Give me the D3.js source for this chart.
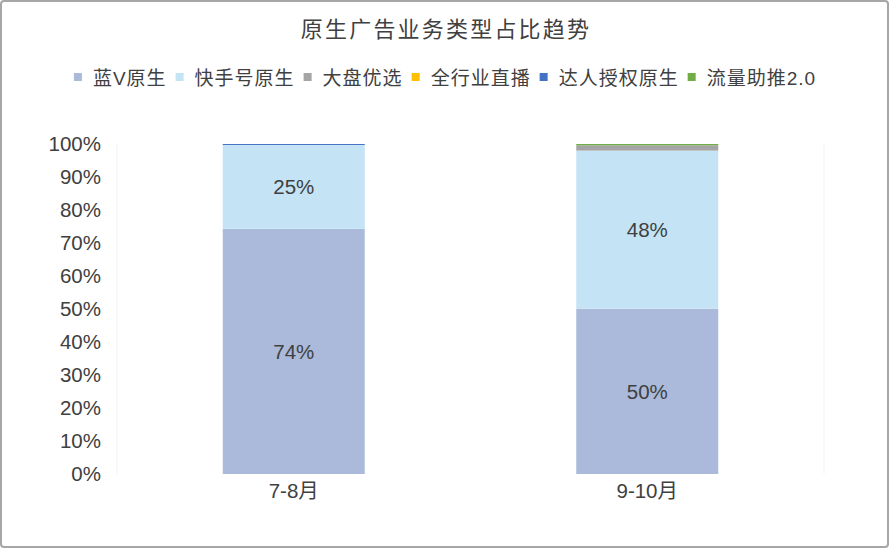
<!DOCTYPE html>
<html>
<head>
<meta charset="utf-8">
<script src="https://cdn.jsdelivr.net/npm/d3@7"></script>
<style>
  body { margin: 0; background: #fff; }
  text { font-family: "Liberation Sans", "Noto Sans CJK SC", sans-serif; fill: #404040; }
</style>
</head>
<body>
<svg></svg>
<script>
const width = 890;
const height = 560;

const categories = ["7-8月", "9-10月"];
const seriesNames = ["蓝V原生", "快手号原生", "大盘优选", "全行业直播", "达人授权原生", "流量助推2.0"];
const seriesColors = ["#abbadb", "#c4e4f5", "#a5a5a5", "#ffc000", "#4472c4", "#70ad47"];
// share per category, in series order
const lanV = [0.743, 0.501];
const kuaishouhao = [0.254, 0.479];
const dapan = [0, 0.016];
const quanhangye = [0, 0];
const daren = [0.003, 0];
const liuliang = [0, 0.004];
const yTicks = [0, 0.1, 0.2, 0.3, 0.4, 0.5, 0.6, 0.7, 0.8, 0.9, 1];

const seriesValues = [lanV, kuaishouhao, dapan, quanhangye, daren, liuliang];
const table = categories.map((c, i) => {
  const row = { cat: c };
  seriesNames.forEach((s, j) => (row[s] = seriesValues[j][i]));
  return row;
});
const stacked = d3.stack().keys(seriesNames)(table);

const svg = d3.select("svg").attr("width", width).attr("height", height);

// chart border
svg.append("rect")
  .attr("x", 1).attr("y", 1)
  .attr("width", 887).attr("height", 546)
  .attr("rx", 3)
  .attr("fill", "#fff")
  .attr("stroke", "#a6a6a6")
  .attr("stroke-width", 2);

const x = d3.scaleBand().domain(categories).range([117, 824]);
const y = d3.scaleLinear().domain([0, 1]).range([474, 144]);
const color = d3.scaleOrdinal().domain(seriesNames).range(seriesColors);
const barW = 142;

// faint plot-area edges
svg.selectAll("line.edge")
  .data([117, 824])
  .join("line")
  .attr("x1", d => d).attr("x2", d => d)
  .attr("y1", y(1)).attr("y2", y(0))
  .attr("stroke", "#f3f3f3");

// title
svg.append("text")
  .attr("x", 446).attr("y", 37)
  .attr("text-anchor", "middle")
  .style("font-size", "22px")
  .style("letter-spacing", "2.2px")
  .text("原生广告业务类型占比趋势");

// y axis
const yAxis = svg.append("g")
  .attr("transform", "translate(101,0)")
  .call(d3.axisLeft(y).tickValues(yTicks).tickFormat(d3.format(".0%")).tickSize(0).tickPadding(0));
yAxis.select(".domain").remove();
yAxis.selectAll("text").style("font-size", "20.5px").attr("fill", "#404040");

// x axis
const xAxis = svg.append("g")
  .attr("transform", `translate(0,${y(0)})`)
  .call(d3.axisBottom(x).tickSize(0).tickPadding(9));
xAxis.select(".domain").remove();
xAxis.selectAll("text").style("font-size", "20.5px").attr("fill", "#404040");

// bars
const layer = svg.append("g").selectAll("g")
  .data(stacked)
  .join("g")
  .attr("fill", d => color(d.key));

layer.selectAll("rect")
  .data(d => d)
  .join("rect")
  .attr("x", d => x(d.data.cat) + x.bandwidth() / 2 - barW / 2)
  .attr("width", barW)
  .attr("y", d => y(d[1]))
  .attr("height", d => y(d[0]) - y(d[1]));

// value labels
layer.selectAll("text")
  .data(d => d.filter(v => v[1] - v[0] > 0.05))
  .join("text")
  .attr("x", d => x(d.data.cat) + x.bandwidth() / 2)
  .attr("y", d => (y(d[0]) + y(d[1])) / 2)
  .attr("dy", "0.35em")
  .attr("text-anchor", "middle")
  .style("font-size", "20.5px")
  .text(d => d3.format(".0%")(d[1] - d[0]));

// legend, centred
const legend = svg.append("g").attr("transform", "translate(0,85)");
const items = legend.selectAll("g")
  .data(seriesNames)
  .join("g");
items.append("rect")
  .attr("y", -12).attr("width", 8).attr("height", 8)
  .attr("fill", d => color(d));
items.append("text")
  .attr("x", 19)
  .style("font-size", "19px")
  .style("letter-spacing", "1px")
  .text(d => d);

let cx = 0;
items.each(function () {
  const w = 19 + d3.select(this).select("text").node().getComputedTextLength();
  d3.select(this).attr("transform", `translate(${cx},0)`);
  cx += w + 9;
});
const total = cx - 9;
legend.attr("transform", `translate(${445 - total / 2},85)`);
</script>
</body>
</html>
